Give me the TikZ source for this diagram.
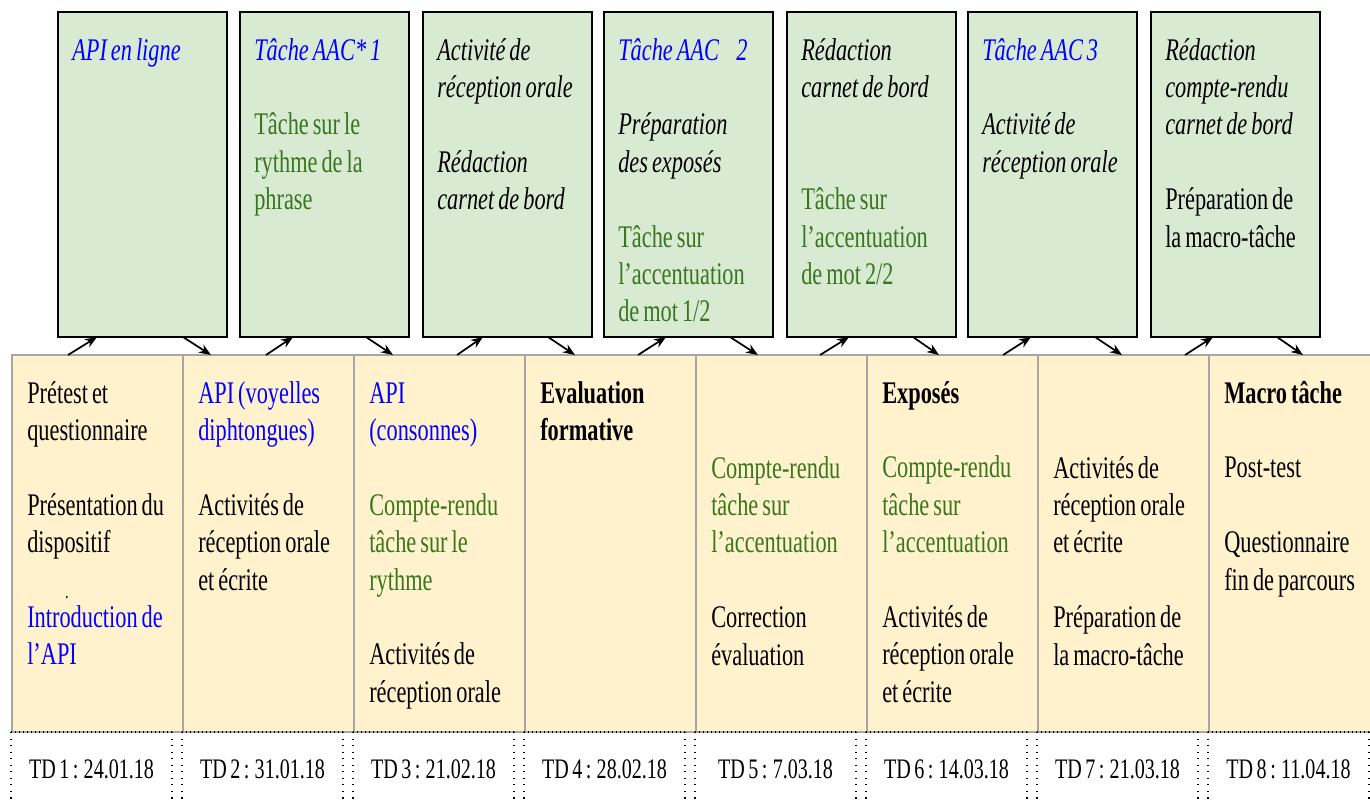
\documentclass[tikz,border=0pt]{standalone}
\usepackage{fontspec}
\setmainfont{Liberation Serif}[FakeStretch=0.71,WordSpace=0.71]
\usetikzlibrary{calc,arrows.meta}
\definecolor{gfill}{HTML}{D9EAD3}
\definecolor{yfill}{HTML}{FFF2CC}
\definecolor{cellline}{HTML}{A6A6A6}
\definecolor{tblue}{HTML}{0000FF}
\definecolor{tgreen}{HTML}{38761D}
\newcommand{\skipline}{\\[28.05pt]}
\begin{document}
\begin{tikzpicture}[x=0.75pt,y=-0.75pt,
 gbox/.style={draw=black,line width=1.5pt,fill=gfill,minimum width=126.75pt,minimum height=243.75pt,anchor=north west,inner sep=0pt,outer sep=0pt},
 ycell/.style={draw=cellline,line width=1.5pt,fill=yfill,minimum width=128.25pt,minimum height=282.75pt,anchor=north west,inner sep=0pt,outer sep=0pt},
 tdcell/.style={minimum width=120.75pt,minimum height=58.5pt,anchor=north west,inner sep=0pt,outer sep=0pt},
 hdots/.style={line width=0.9pt,dash pattern=on 0.9pt off 2.1pt},
 vdots/.style={line width=0.9pt,dash pattern=on 0.9pt off 4pt},
 txt/.style={anchor=base west,inner sep=0pt,text width=150pt,align=left,font=\fontsize{23.6}{28.05}\selectfont,
   execute at begin node={\spaceskip=0pt\relax\xspaceskip=0pt\relax}},
 tdtxt/.style={anchor=base,inner sep=0pt,font=\fontsize{21.2}{26}\selectfont},
 arr/.style={line width=1.3pt,-{Stealth[length=9pt,width=7pt]}}
]
\useasboundingbox (0,0) rectangle (1370,800);
\clip (0,0) rectangle (1370,800);

% top green boxes
\node[gbox] (b1) at (58,12) {};
\node[gbox] (b2) at (240,12) {};
\node[gbox] (b3) at (423,12) {};
\node[gbox] (b4) at (604,12) {};
\node[gbox] (b5) at (787,12) {};
\node[gbox] (b6) at (968,12) {};
\node[gbox] (b7) at (1151,12) {};

% yellow cells
\node[ycell] (c1) at (12,355) {};
\node[ycell] (c2) at (183,355) {};
\node[ycell] (c3) at (354,355) {};
\node[ycell] (c4) at (525,355) {};
\node[ycell] (c5) at (696,355) {};
\node[ycell] (c6) at (867,355) {};
\node[ycell] (c7) at (1038,355) {};
\node[ycell] (c8) at (1209,355) {};

% TD cells
\foreach \i/\lab in {1/{TD 1 : 24.01.18},2/{TD 2 : 31.01.18},3/{TD 3 : 21.02.18},4/{TD 4 : 28.02.18},5/{TD 5 : 7.03.18},6/{TD 6 : 14.03.18},7/{TD 7 : 21.03.18},8/{TD 8 : 11.04.18}}{
  \node[tdcell] (td\i) at ({11+171*(\i-1)},732) {};
  \draw[hdots] (td\i.north west) -- (td\i.north east);
  \draw[vdots] (td\i.north west) -- (td\i.south west);
  \draw[vdots] (td\i.north east) -- (td\i.south east);
  \node[tdtxt] (tdl\i) at ({11+171*(\i-1)+80.5},778) {\lab};
}

% texts in green boxes
\node[txt] (t1) at (72,60) {{\itshape\color{tblue}API en ligne}};
\node[txt] (t2) at (254,60) {{\itshape\color{tblue}Tâche AAC* 1}\skipline{\color{tgreen}Tâche sur le\\rythme de la\\phrase}};
\node[txt] (t3) at (437,60) {{\itshape Activité de\\réception orale}\skipline{\itshape Rédaction\\carnet de bord}};
\node[txt] (t4) at (618,60) {{\itshape\color{tblue}Tâche AAC\hspace{0.55em}2}\skipline{\itshape Préparation\\des exposés}\skipline{\color{tgreen}Tâche sur\\l’accentuation\\de mot 1/2}};
\node[txt] (t5) at (801,60) {{\itshape Rédaction\\carnet de bord}\\[56.1pt]{\color{tgreen}Tâche sur\\l’accentuation\\de mot 2/2}};
\node[txt] (t6) at (982,60) {{\itshape\color{tblue}Tâche AAC 3}\skipline{\itshape Activité de\\réception orale}};
\node[txt] (t7) at (1165,60) {{\itshape Rédaction\\compte-rendu\\carnet de bord}\skipline Préparation de\\la macro-tâche};

% texts in yellow cells
\node[txt] (u1) at (27,403) {Prétest et\\questionnaire\skipline Présentation du\\dispositif\skipline{\color{tblue}Introduction de\\l’API}};
\node[font=\fontsize{15}{16}\selectfont,inner sep=0pt,anchor=base] (dot1) at (67,598) {.};
\node[txt] (u2) at (198,403) {{\color{tblue}API (voyelles\\diphtongues)}\skipline Activités de\\réception orale\\et écrite};
\node[txt] (u3) at (369,403) {{\color{tblue}API\\(consonnes)}\skipline{\color{tgreen}Compte-rendu\\tâche sur le\\rythme}\skipline Activités de\\réception orale};
\node[txt] (u4) at (540,403) {{\bfseries Evaluation\\formative}};
\node[txt] (u5) at (711,478) {{\color{tgreen}Compte-rendu\\tâche sur\\l’accentuation}\skipline Correction\\évaluation};
\node[txt] (u6) at (882,403) {{\bfseries Exposés}\skipline{\color{tgreen}Compte-rendu\\tâche sur\\l’accentuation}\skipline Activités de\\réception orale\\et écrite};
\node[txt] (u7) at (1053,478) {Activités de\\réception orale\\et écrite\skipline Préparation de\\la macro-tâche};
\node[txt] (u8) at (1224,403) {{\bfseries Macro tâche}\skipline Post-test\skipline Questionnaire\\fin de parcours};

% arrows
\draw[arr] ($(c1.north west)+(56,0)$) -- ($(b1.south west)+(39,0)$);
\draw[arr] ($(b1.south west)+(125,0)$) -- ($(c2.north west)+(28,0)$);
\draw[arr] ($(c2.north west)+(83,0)$) -- ($(b2.south west)+(53,0)$);
\draw[arr] ($(b2.south west)+(126,0)$) -- ($(c3.north west)+(39,0)$);
\draw[arr] ($(c3.north west)+(103,0)$) -- ($(b3.south west)+(60,0)$);
\draw[arr] ($(b3.south west)+(125,0)$) -- ($(c4.north west)+(50,0)$);
\draw[arr] ($(c4.north west)+(113,0)$) -- ($(b4.south west)+(62,0)$);
\draw[arr] ($(b4.south west)+(126,0)$) -- ($(c5.north west)+(62,0)$);
\draw[arr] ($(c5.north west)+(124,0)$) -- ($(b5.south west)+(62,0)$);
\draw[arr] ($(b5.south west)+(126,0)$) -- ($(c6.north west)+(72,0)$);
\draw[arr] ($(c6.north west)+(136,0)$) -- ($(b6.south west)+(63,0)$);
\draw[arr] ($(b6.south west)+(127,0)$) -- ($(c7.north west)+(84,0)$);
\draw[arr] ($(c7.north west)+(147,0)$) -- ($(b7.south west)+(62,0)$);
\draw[arr] ($(b7.south west)+(126,0)$) -- ($(c8.north west)+(94,0)$);
\end{tikzpicture}
\end{document}
